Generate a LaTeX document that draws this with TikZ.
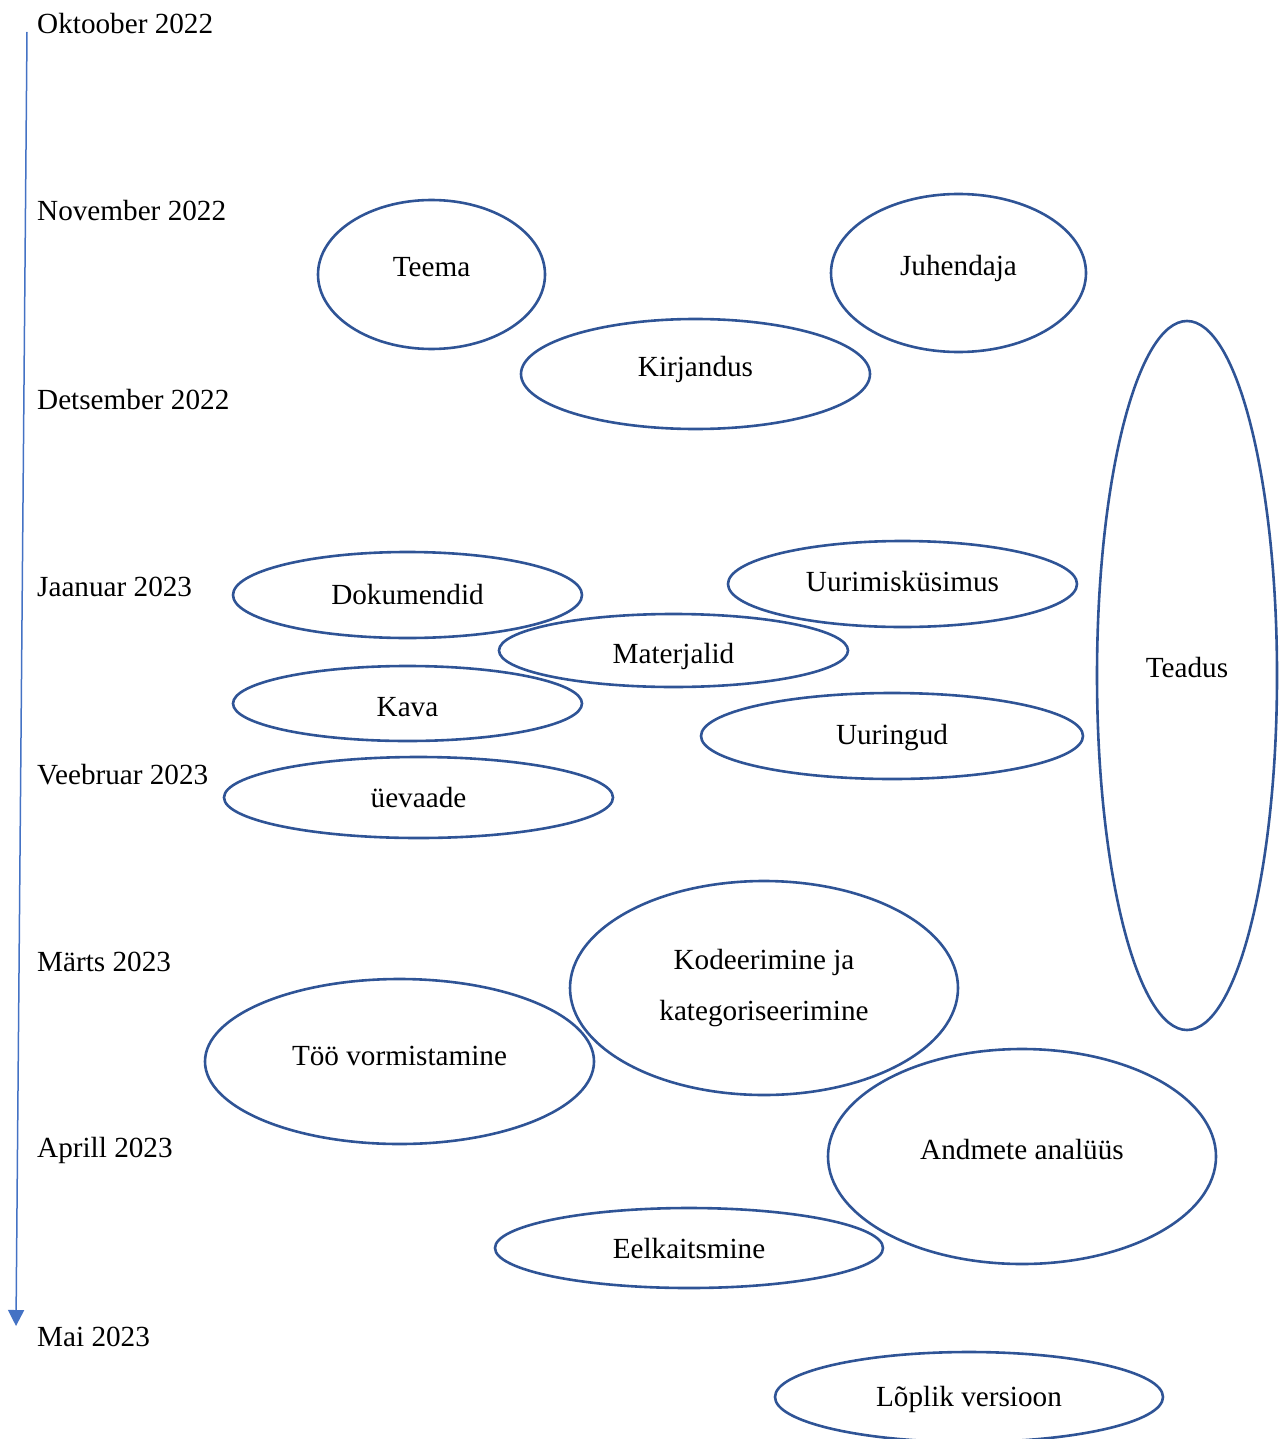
\documentclass[tikz,border=0pt]{standalone}
\usepackage{fontspec}
\setmainfont{Liberation Serif}
\usepackage{xcolor}
\usetikzlibrary{shapes.geometric,arrows.meta}
\definecolor{joon}{HTML}{2F5496}
\definecolor{telg}{HTML}{4472C4}
\newcommand{\nihe}[2]{\raisebox{#1}[\height][\depth]{#2}}

\begin{document}
\begin{tikzpicture}[x=1pt,y=-1pt,
    every node/.style={font=\fontsize{29.2}{51}\selectfont},
    kuu/.style={anchor=west,inner sep=0pt},
    etapp/.style={draw=joon,line width=2.6pt,ellipse,inner sep=0pt,align=center}]
      \useasboundingbox (0,0) rectangle (1284,1439);

      % ajatelg
      \coordinate (algus) at (27,32);
      \coordinate (lopp) at (16,1326);
      \draw[telg,line width=1.5pt,-{Triangle[length=16pt,width=16pt]}] (algus) -- (lopp);

      \node[kuu] (okt) at (37,24) {Oktoober 2022};
      \node[kuu] (nov) at (37,211) {November 2022};
      \node[kuu] (dets) at (37,400) {Detsember 2022};
      \node[kuu] (jaan) at (37,587) {Jaanuar 2023};
      \node[kuu] (veebr) at (37,775) {Veebruar 2023};
      \node[kuu] (marts) at (37,962) {Märts 2023};
      \node[kuu] (apr) at (37,1150) {Aprill 2023};
      \node[kuu] (mai) at (37,1337) {Mai 2023};

      % etapid
      \node[etapp,minimum width=227pt,minimum height=149pt] (teema) at (431.5,274.5) {\nihe{7pt}{Teema}};
      \node[etapp,minimum width=255pt,minimum height=158pt] (juhendaja) at (958.5,273) {\nihe{5pt}{Juhendaja}};
      \node[etapp,minimum width=349pt,minimum height=110pt] (kirjandus) at (695.5,374) {\nihe{5pt}{Kirjandus}};
      \node[etapp,minimum width=180pt,minimum height=709pt] (teadus) at (1187,675.5) {\nihe{8pt}{Teadus}};
      \node[etapp,minimum width=349pt,minimum height=86pt] (dokumendid) at (407.5,595) {Dokumendid};
      \node[etapp,minimum width=349pt,minimum height=86pt] (kusimus) at (902.5,584) {\nihe{2pt}{Uurimisküsimus}};
      \node[etapp,minimum width=349pt,minimum height=73pt] (materjalid) at (673.5,650.5) {\nihe{-6pt}{Materjalid}};
      \node[etapp,minimum width=349pt,minimum height=75pt] (kava) at (407.5,703.5) {\nihe{-4pt}{Kava}};
      \node[etapp,minimum width=382pt,minimum height=86pt] (uuringud) at (892,736) {\nihe{-2pt}{Uuringud}};
      \node[etapp,minimum width=389pt,minimum height=81pt] (ulevaade) at (418.5,797.5) {üevaade};
      \node[etapp,minimum width=388pt,minimum height=214pt] (kodeerimine) at (764,988) {Kodeerimine ja\\kategoriseerimine};
      \node[etapp,minimum width=389pt,minimum height=165pt] (vormistamine) at (399.5,1061.5) {\nihe{6pt}{Töö vormistamine}};
      \node[etapp,minimum width=388pt,minimum height=215pt] (analuus) at (1022,1156.5) {\nihe{7pt}{Andmete analüüs}};
      \node[etapp,minimum width=388pt,minimum height=80pt] (eelkaitsmine) at (689,1248) {Eelkaitsmine};
      \node[etapp,minimum width=388pt,minimum height=90pt] (versioon) at (969,1397) {\nihe{-2pt}{Lõplik versioon}};
\end{tikzpicture}
\end{document}
